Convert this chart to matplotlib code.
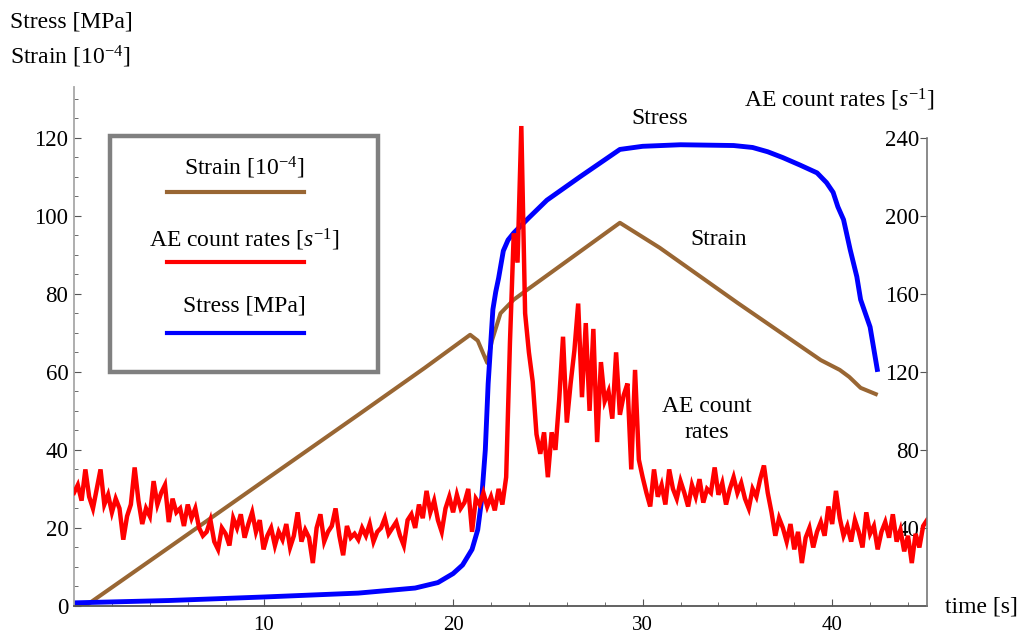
import numpy as np
import matplotlib
matplotlib.use("Agg")
import matplotlib.pyplot as plt
from matplotlib.patches import Rectangle
from matplotlib.ticker import MultipleLocator

plt.rcParams['font.family'] = ['Liberation Serif', 'DejaVu Serif']
plt.rcParams['mathtext.fontset'] = 'custom'
plt.rcParams['mathtext.rm'] = 'Liberation Serif'
plt.rcParams['mathtext.it'] = 'Liberation Serif:italic'

# stress [MPa]
stress_t = [0, 5, 10, 15, 18, 19.2, 20.0, 20.5, 21.0, 21.3, 21.5, 21.7, 21.85, 22.1,
            22.25, 22.4, 22.65, 22.9, 23.2, 24.0, 24.95, 26.7, 28.8, 30.0, 32.0, 34.8,
            35.8, 36.6, 37.4, 38.3, 39.2, 39.7, 40.05, 40.3, 40.6, 40.95, 41.3, 41.5,
            42.0, 42.4]
stress = [0.8, 1.4, 2.3, 3.3, 4.6, 6.0, 8.3, 10.5, 14.5, 19.5, 27, 40, 57, 76,
          80.5, 84, 91, 93.8, 95.6, 99.5, 104, 110, 117, 117.8, 118.2, 118,
          117.5, 116.4, 114.9, 113, 111, 108.5, 106, 102.3, 99, 91.3, 84.4, 78.5,
          71.5, 60]

# strain [1e-4], brown curve
strain_t = [0, 0.6, 5.6, 10, 15, 18.5, 20.9, 21.3, 21.8, 22.05, 22.5, 23.2, 23.9,
            28.8, 30.9, 35, 39.4, 40.4, 40.9, 41.5, 42.4]
strain = [0, 0, 17, 32, 49, 61, 69.5, 68, 62.3, 68, 75, 78.5, 81,
          98.2, 91.8, 77.7, 63, 60.5, 58.7, 55.9, 54.1]

# AE count rates [1/s], one reading every 0.2 s from 0 to 45 s
ae_rates = [
    58, 62, 54, 70, 56, 50, 60, 70, 52, 57, 48, 55, 50, 34, 46, 52, 71, 54, 42, 50, 46, 64, 52, 58, 62,
    43, 55, 48, 50, 41, 52, 45, 50, 40, 36, 38, 44, 33, 29, 40, 37, 31, 45, 40, 47, 35, 42, 48, 38, 44,
    29, 36, 40, 31, 38, 34, 42, 30, 36, 48, 33, 39, 35, 22, 40, 47, 33, 38, 41, 50, 36, 26, 41, 35, 37,
    34, 40, 36, 42, 33, 38, 40, 45, 37, 40, 43, 36, 31, 44, 47, 40, 52, 45, 59, 48, 54, 44, 38, 50, 56,
    48, 57, 50, 53, 60, 38, 55, 52, 58, 51, 56, 49, 60, 52, 66, 135, 191, 176, 246, 150, 130, 115, 88, 78, 89,
    66, 89, 80, 106, 138, 94, 114, 131, 155, 107, 145, 100, 142, 84, 125, 105, 110, 96, 130, 98, 108, 114, 70, 121, 75,
    66, 58, 51, 70, 56, 62, 52, 70, 60, 55, 64, 58, 51, 62, 56, 65, 53, 60, 58, 71, 57, 63, 52, 60, 66,
    58, 63, 55, 50, 60, 56, 65, 72, 58, 48, 36, 45, 40, 33, 42, 29, 38, 22, 35, 40, 30, 38, 43, 36, 51,
    42, 59, 45, 36, 41, 33, 44, 38, 30, 48, 37, 41, 29, 38, 43, 35, 47, 33, 39, 28, 36, 22, 37, 30, 41, 44,
]
ae_t = np.arange(len(ae_rates)) * 0.2

x_major = [10, 20, 30, 40]
y_major = [0, 20, 40, 60, 80, 100, 120]
y2_major = [40, 80, 120, 160, 200, 240]

FS = 17

fig = plt.figure(figsize=(10.22, 6.35), dpi=100)
ax = fig.add_axes([0.0724, 0.0457, 0.8346, 0.8173])
ax2 = ax.twinx()

ax.plot(strain_t, strain, color='#996633', lw=2.9, solid_capstyle='butt')
ax.plot(stress_t, stress, color='#0000ff', lw=3.5, solid_capstyle='butt')
ax2.plot(ae_t, ae_rates, color='#ff0000', lw=3.2, solid_joinstyle='miter')

ax.set_xlim(0, 45)
ax.set_ylim(0, 133)
ax2.set_ylim(0, 266)

for s in ['top', 'right']:
    ax.spines[s].set_visible(False)
for s in ['top', 'left', 'bottom']:
    ax2.spines[s].set_visible(False)
ax.spines['left'].set_color('#a8a8a8')
ax.spines['left'].set_linewidth(1.3)
ax.spines['bottom'].set_color('#555555')
ax.spines['bottom'].set_linewidth(1.3)
ax2.spines['right'].set_color('#777777')
ax2.spines['right'].set_linewidth(1.2)
ax2.spines['right'].set_bounds(0, 240)

ax.set_xticks(x_major)
ax.xaxis.set_minor_locator(MultipleLocator(2))
ax.set_yticks(y_major)
ax.yaxis.set_minor_locator(MultipleLocator(5))
ax.tick_params(axis='x', which='both', direction='in', top=False, color='#555555',
               labelsize=15, pad=7)
ax.tick_params(axis='x', which='major', length=5)
ax.tick_params(axis='x', which='minor', length=3)
ax.tick_params(axis='y', which='both', direction='in', right=False, color='#555555',
               labelsize=FS - 0.5, pad=4)
ax.tick_params(axis='y', which='major', length=5)
ax.tick_params(axis='y', which='minor', length=3)

ax2.set_yticks(y2_major)
ax2.set_yticklabels([str(v) for v in y2_major], ha='right')
ax2.tick_params(axis='y', direction='in', length=5, color='#555555',
                labelsize=FS - 0.5, pad=-5.5)

# axis titles
fig.text(0.0098, 0.965, 'Stress [MPa]', fontsize=FS, va='center', ha='left')
fig.text(0.0098, 0.91, 'Strain [$10^{-4}$]', fontsize=FS, va='center', ha='left')
fig.text(0.821, 0.843, 'AE count rates [$s^{-1}$]', fontsize=FS, va='center', ha='center')
fig.text(0.925, 0.044, 'time [s]', fontsize=FS, va='center', ha='left')

# curve labels
ax.text(30.9, 125, 'Stress', fontsize=FS, ha='center', va='center')
ax.text(34.0, 93.8, 'Strain', fontsize=FS, ha='center', va='center')
ax.text(33.4, 47.7, 'AE count\nrates', fontsize=FS, ha='center', va='center', linespacing=1.3)

# framed legend, label above each sample line
ax.add_patch(Rectangle((0.042, 0.451), 0.314, 0.455, transform=ax.transAxes,
                       fill=False, ec='#808080', lw=3.2, zorder=5))
legend_items = [('Strain [$10^{-4}$]', '#996633', 0.844, 0.798),
                ('AE count rates [$s^{-1}$]', '#ff0000', 0.705, 0.663),
                ('Stress [MPa]', '#0000ff', 0.578, 0.526)]
for label, col, ty, ly in legend_items:
    ax.text(0.2, ty, label, transform=ax.transAxes, fontsize=FS, ha='center', va='center')
    ax.plot([0.109, 0.270], [ly, ly], transform=ax.transAxes, color=col, lw=3)

fig.savefig('out.png', dpi=100)
